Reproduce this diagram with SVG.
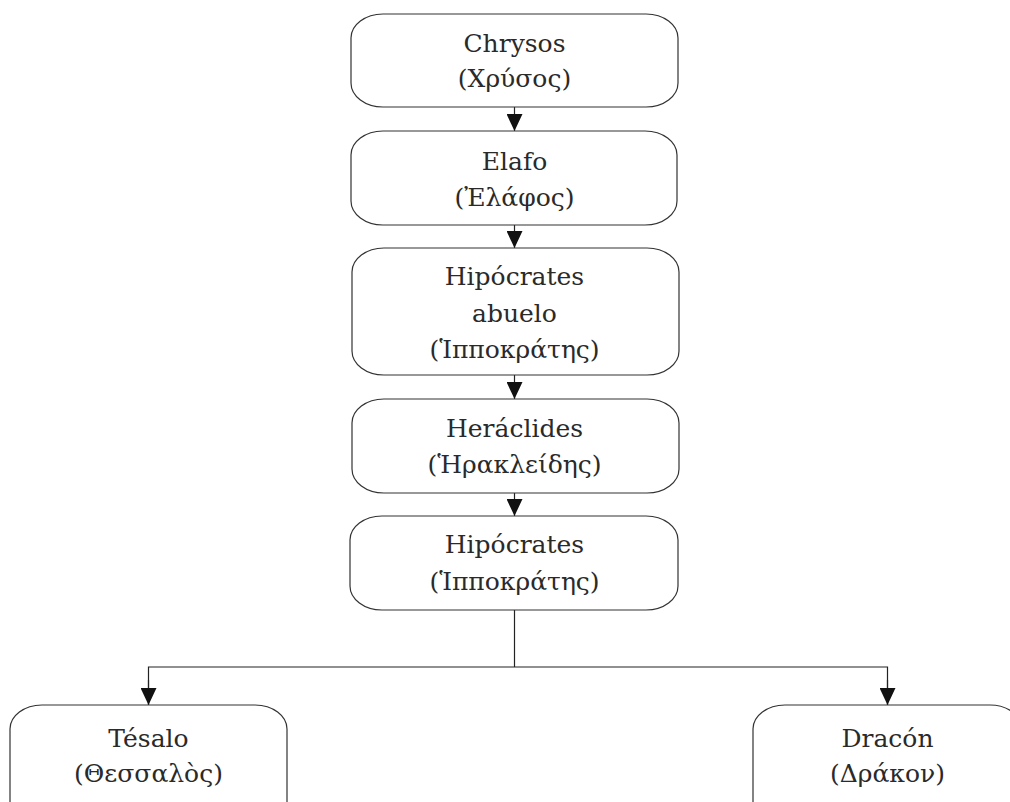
<svg xmlns="http://www.w3.org/2000/svg" width="1010" height="802" viewBox="0 0 1010 802">
<style>
.box{fill:#fff;stroke:#333;stroke-width:1.2}
.t{font-family:"DejaVu Serif",serif;font-size:25px;fill:#2a2a2a;text-anchor:middle}
.c{stroke:#222;stroke-width:1.2;fill:none}
</style>
<defs>
<marker id="ah" viewBox="0 0 17 16" refX="17" refY="8" markerWidth="17" markerHeight="16" markerUnits="userSpaceOnUse" orient="auto">
<path d="M0,0 L17,8 L0,16 Z" fill="#111"/>
</marker>
</defs>
<rect width="1010" height="802" fill="#fff"/>
<g id="connectors">
<line class="c" x1="514.5" y1="107" x2="514.5" y2="131" marker-end="url(#ah)"/>
<line class="c" x1="514.5" y1="225" x2="514.5" y2="248" marker-end="url(#ah)"/>
<line class="c" x1="514.5" y1="375" x2="514.5" y2="399" marker-end="url(#ah)"/>
<line class="c" x1="514.5" y1="493" x2="514.5" y2="516" marker-end="url(#ah)"/>
<path class="c" d="M514.5,610 V667"/>
<path class="c" d="M148.5,705 V667 H887.5 V705" />
<line class="c" x1="148.5" y1="680" x2="148.5" y2="705" marker-end="url(#ah)"/>
<line class="c" x1="887.5" y1="680" x2="887.5" y2="705" marker-end="url(#ah)"/>
</g>
<g id="chrysos">
<rect class="box" x="351" y="14" width="327" height="93" rx="32" ry="24"/>
<text class="t" x="514.5" y="52">Chrysos</text>
<text class="t" x="514.5" y="87">(Χρύσος)</text>
</g>
<g id="elafo">
<rect class="box" x="351" y="131" width="326" height="94" rx="32" ry="24"/>
<text class="t" x="514.5" y="170">Elafo</text>
<text class="t" x="514.5" y="206">(Ἐλάφος)</text>
</g>
<g id="hipocrates-abuelo">
<rect class="box" x="352" y="248" width="327" height="127" rx="32" ry="24"/>
<text class="t" x="514.5" y="285">Hipócrates</text>
<text class="t" x="514.5" y="322">abuelo</text>
<text class="t" x="514.5" y="358">(Ἱπποκράτης)</text>
</g>
<g id="heraclides">
<rect class="box" x="352" y="399" width="327" height="94" rx="32" ry="24"/>
<text class="t" x="514.5" y="437">Heráclides</text>
<text class="t" x="514.5" y="473">(Ἡρακλείδης)</text>
</g>
<g id="hipocrates">
<rect class="box" x="350" y="516" width="328" height="94" rx="32" ry="24"/>
<text class="t" x="514.5" y="553">Hipócrates</text>
<text class="t" x="514.5" y="590">(Ἱπποκράτης)</text>
</g>
<g id="tesalo">
<rect class="box" x="10" y="705" width="277" height="130" rx="32" ry="24"/>
<text class="t" x="148.5" y="747">Tésalo</text>
<text class="t" x="148.5" y="782">(Θεσσαλὸς)</text>
</g>
<g id="dracon">
<rect class="box" x="753" y="705" width="269" height="130" rx="32" ry="24"/>
<text class="t" x="887.5" y="747">Dracón</text>
<text class="t" x="887.5" y="782">(Δράκον)</text>
</g>
</svg>
